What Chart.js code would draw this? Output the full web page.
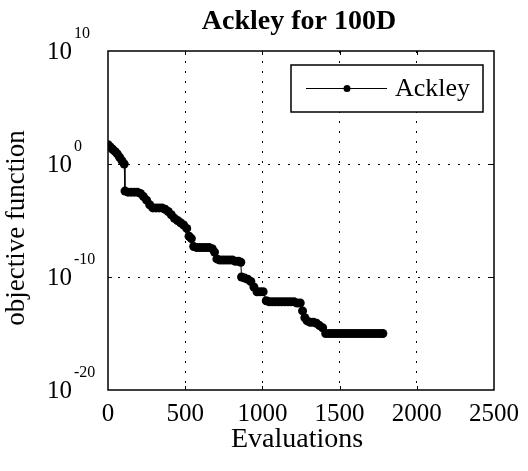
<!DOCTYPE html>
<html>
<head>
<meta charset="utf-8">
<script src="https://cdn.jsdelivr.net/npm/chart.js@4/dist/chart.umd.min.js"></script>
<style>
  html, body { margin: 0; padding: 0; background: #fff; }
  #wrap { position: relative; width: 528px; height: 471px; }
</style>
</head>
<body>
<div id="wrap"><canvas id="chart"></canvas></div>
<script>
// convergence history
const evaluations = [
  0, 15, 30, 45, 60, 75, 90, 105, 110, 130, 150, 170, 190, 210, 230, 250, 270, 290,
  310, 330, 350, 370, 390, 410, 430, 450, 470, 490, 510, 525, 540, 555, 575, 595,
  615, 635, 655, 675, 690, 705, 725, 745, 765, 785, 805, 825, 845, 860, 865, 885,
  905, 925, 945, 965, 985, 1005, 1025, 1045, 1065, 1085, 1105, 1125, 1145, 1165, 1185, 1205,
  1225, 1245, 1260, 1275, 1290, 1310, 1330, 1350, 1370, 1390, 1410, 1430, 1450, 1470, 1490, 1510,
  1530, 1550, 1570, 1590, 1610, 1630, 1650, 1670, 1690, 1710, 1730, 1750, 1770, 1780
];
const objective = [
  5e1, 3.2e1, 2e1, 1.3e1, 7.9, 4, 2, 1, 4e-3, 3.2e-3, 3.2e-3, 3.2e-3, 3.2e-3, 2.5e-3, 1.3e-3, 6.3e-4, 2.5e-4, 1.3e-4,
  1.3e-4, 1.3e-4, 1.3e-4, 1e-4, 6.3e-5, 3.2e-5, 1.6e-5, 1e-5, 6.3e-6, 4e-6, 2e-6, 4e-7, 2.5e-7, 5e-8, 4e-8, 4e-8,
  4e-8, 4e-8, 4e-8, 3.2e-8, 1.6e-8, 4e-9, 3.2e-9, 3.2e-9, 3.2e-9, 3.2e-9, 3.2e-9, 2.5e-9, 2.5e-9, 2e-9, 1e-10, 8e-11,
  6.3e-11, 4e-11, 1.3e-11, 5e-12, 5e-12, 5e-12, 8e-13, 6.3e-13, 6.3e-13, 6.3e-13, 6.3e-13, 6.3e-13, 6.3e-13, 6.3e-13, 6.3e-13, 6.3e-13,
  5e-13, 5e-13, 1e-13, 2.5e-14, 1.3e-14, 1e-14, 1e-14, 8e-15, 5e-15, 3.2e-15, 1e-15, 1e-15, 1e-15, 1e-15, 1e-15, 1e-15,
  1e-15, 1e-15, 1e-15, 1e-15, 1e-15, 1e-15, 1e-15, 1e-15, 1e-15, 1e-15, 1e-15, 1e-15, 1e-15, 1e-15
];
const xTicks = [0, 500, 1000, 1500, 2000, 2500];
const yTicks = [1e-20, 1e-10, 1e0, 1e10];
const yTickExponents = ['-20', '-10', '0', '10'];
const seriesName = 'Ackley';
const titleText = 'Ackley for 100D';
const xTitle = 'Evaluations';
const yTitle = 'objective function';

const SERIF = '"Liberation Serif", "Times New Roman", serif';

// frame, inward ticks, y labels with exponents, titles and legend
const decorations = {
  id: 'decorations',
  afterDatasetsDraw(chart) {
    const { ctx, chartArea: a, scales } = chart;
    ctx.save();
    ctx.strokeStyle = '#000';
    ctx.lineWidth = 1.5;
    ctx.strokeRect(a.left, a.top, a.right - a.left, a.bottom - a.top);

    ctx.lineWidth = 1;
    ctx.beginPath();
    xTicks.slice(1, -1).forEach(v => {
      const x = Math.round(scales.x.getPixelForValue(v)) + 0.5;
      ctx.moveTo(x, a.bottom); ctx.lineTo(x, a.bottom - 4);
      ctx.moveTo(x, a.top); ctx.lineTo(x, a.top + 4);
    });
    yTicks.slice(1, -1).forEach(v => {
      const y = Math.round(scales.y.getPixelForValue(v)) + 0.5;
      ctx.moveTo(a.left, y); ctx.lineTo(a.left + 4, y);
      ctx.moveTo(a.right, y); ctx.lineTo(a.right - 4, y);
    });
    ctx.stroke();

    ctx.fillStyle = '#000';
    ctx.textBaseline = 'middle';
    yTicks.forEach((v, i) => {
      const y = scales.y.getPixelForValue(v);
      ctx.font = '25px ' + SERIF;
      ctx.textAlign = 'right';
      ctx.fillText('10', 72, y + 1);
      ctx.font = '16px ' + SERIF;
      ctx.textAlign = 'left';
      ctx.fillText(yTickExponents[i], 74, y - 17);
    });

    ctx.textAlign = 'center';
    ctx.font = 'bold 28px ' + SERIF;
    ctx.fillText(titleText, 299, 22);
    ctx.font = '28px ' + SERIF;
    ctx.fillText(xTitle, 297, 440);
    ctx.save();
    ctx.translate(17, 228);
    ctx.rotate(-Math.PI / 2);
    ctx.font = '27px ' + SERIF;
    ctx.fillText(yTitle, 0, 0);
    ctx.restore();

    // legend box
    const lx = 291, ly = 65, lw = 192, lh = 47;
    ctx.fillStyle = '#fff';
    ctx.fillRect(lx, ly, lw, lh);
    ctx.lineWidth = 1.5;
    ctx.strokeRect(lx, ly, lw, lh);
    ctx.lineWidth = 1;
    ctx.beginPath();
    ctx.moveTo(306, 88.5); ctx.lineTo(387, 88.5);
    ctx.stroke();
    ctx.fillStyle = '#000';
    ctx.beginPath();
    ctx.arc(347, 88.5, 3.5, 0, Math.PI * 2);
    ctx.fill();
    ctx.font = '26px ' + SERIF;
    ctx.textAlign = 'left';
    ctx.fillText(seriesName, 395, 89);
    ctx.restore();
  }
};

new Chart(document.getElementById('chart'), {
  type: 'line',
  data: {
    datasets: [{
      label: seriesName,
      data: evaluations.map((e, i) => ({ x: e, y: objective[i] })),
      borderColor: '#000',
      backgroundColor: '#000',
      borderWidth: 1,
      pointRadius: 4.5,
      pointHoverRadius: 4.5,
      pointBorderWidth: 0,
      pointStyle: 'circle',
      tension: 0
    }]
  },
  options: {
    responsive: true,
    maintainAspectRatio: false,
    animation: false,
    devicePixelRatio: 1,
    layout: { padding: { left: 0, right: 32, top: 51, bottom: 0 } },
    plugins: {
      legend: { display: false },
      title: { display: false },
      tooltip: { enabled: false }
    },
    scales: {
      x: {
        type: 'linear',
        min: 0,
        max: 2500,
        afterBuildTicks: s => { s.ticks = xTicks.map(v => ({ value: v })); },
        afterFit: s => { s.height = 81; },
        grid: {
          drawTicks: false,
          color: c => (c.tick && (c.tick.value === 0 || c.tick.value === 2500)) ? 'rgba(0,0,0,0)' : '#000',
          lineWidth: 1
        },
        border: { display: false, dash: [2, 8] },
        ticks: {
          color: '#000',
          padding: 9,
          maxRotation: 0,
          autoSkip: false,
          callback: v => String(v),
          font: { family: SERIF, size: 25 }
        }
      },
      y: {
        type: 'logarithmic',
        min: 1e-20,
        max: 1e10,
        afterBuildTicks: s => { s.ticks = yTicks.map(v => ({ value: v })); },
        afterFit: s => { s.width = 108; },
        grid: {
          drawTicks: false,
          color: c => (c.tick && (c.tick.value === 1e-20 || c.tick.value === 1e10)) ? 'rgba(0,0,0,0)' : '#000',
          lineWidth: 1
        },
        border: { display: false, dash: [2, 8] },
        ticks: { display: false }
      }
    }
  },
  plugins: [decorations]
});
</script>
</body>
</html>
